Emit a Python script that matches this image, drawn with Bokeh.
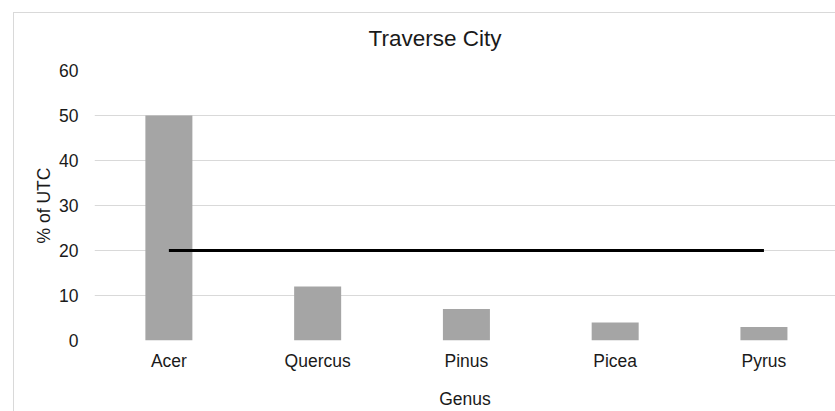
from bokeh.plotting import figure
from bokeh.models import Range1d, FixedTicker, Title
from bokeh.embed import file_html
from bokeh.resources import INLINE

# ---- data ----
genera = ["Acer", "Quercus", "Pinus", "Picea", "Pyrus"]
utc_percent = [50, 12, 7, 4, 3]
threshold = [20, 20, 20, 20, 20]
y_ticks = [0, 10, 20, 30, 40, 50, 60]

positions = list(range(len(genera)))

FONT = "Liberation Sans"
TXT = "#1a1a1a"
GRID = "#d9d9d9"

p = figure(
    width=835, height=411,
    x_range=Range1d(-0.5, 4.481), y_range=Range1d(0, 60),
    output_backend="svg", toolbar_location=None,
    min_border_left=94, min_border_right=0, min_border_top=70, min_border_bottom=71,
)
p.styles = {
    "background-image": "linear-gradient(#d9d9d9,#d9d9d9), linear-gradient(#d9d9d9,#d9d9d9)",
    "background-size": "1px calc(100% - 12px), calc(100% - 13px) 1px",
    "background-position": "13px 12px, 13px 12px",
    "background-repeat": "no-repeat",
}
p.border_fill_alpha = 0
p.background_fill_color = "white"
p.outline_line_color = None

# title
p.title = Title(text="Traverse  City", align="left", offset=274, standoff=38,
                vertical_align="middle",
                text_font=FONT, text_font_size="22.5px", text_font_style="normal",
                text_color=TXT)

# bars
p.vbar(x=positions, top=utc_percent, width=0.316, bottom=0,
       fill_color="#a5a5a5", line_color=None)
# threshold line
p.line(x=positions, y=threshold, line_color="black", line_width=3)

# grid
p.xgrid.grid_line_color = None
p.ygrid.grid_line_color = GRID
p.ygrid.grid_line_width = 1
p.ygrid.ticker = FixedTicker(ticks=y_ticks)

# y axis
ya = p.yaxis[0]
ya.ticker = FixedTicker(ticks=y_ticks)
ya.axis_line_color = None
ya.major_tick_line_color = None
ya.minor_tick_line_color = None
ya.major_tick_out = 0
ya.major_tick_in = 0
ya.major_label_standoff = 16
ya.major_label_text_font = FONT
ya.major_label_text_font_size = "17.5px"
ya.major_label_text_color = TXT
ya.axis_label = "% of UTC"
ya.axis_label_text_font = FONT
ya.axis_label_text_font_size = "17.5px"
ya.axis_label_text_font_style = "normal"
ya.axis_label_text_color = TXT
ya.axis_label_standoff = 2

# x axis
xa = p.xaxis[0]
xa.ticker = FixedTicker(ticks=positions)
xa.major_label_overrides = {i: g for i, g in zip(positions, genera)}
xa.axis_line_color = None
xa.major_tick_line_color = None
xa.minor_tick_line_color = None
xa.major_tick_out = 0
xa.major_tick_in = 0
xa.major_label_standoff = 10
xa.major_label_text_font = FONT
xa.major_label_text_font_size = "17.5px"
xa.major_label_text_color = TXT
xa.axis_label = "Genus"
xa.axis_label_text_font = FONT
xa.axis_label_text_font_size = "17.5px"
xa.axis_label_text_font_style = "normal"
xa.axis_label_text_color = TXT
xa.axis_label_standoff = 15

open("out.html", "w").write(file_html(p, INLINE))
